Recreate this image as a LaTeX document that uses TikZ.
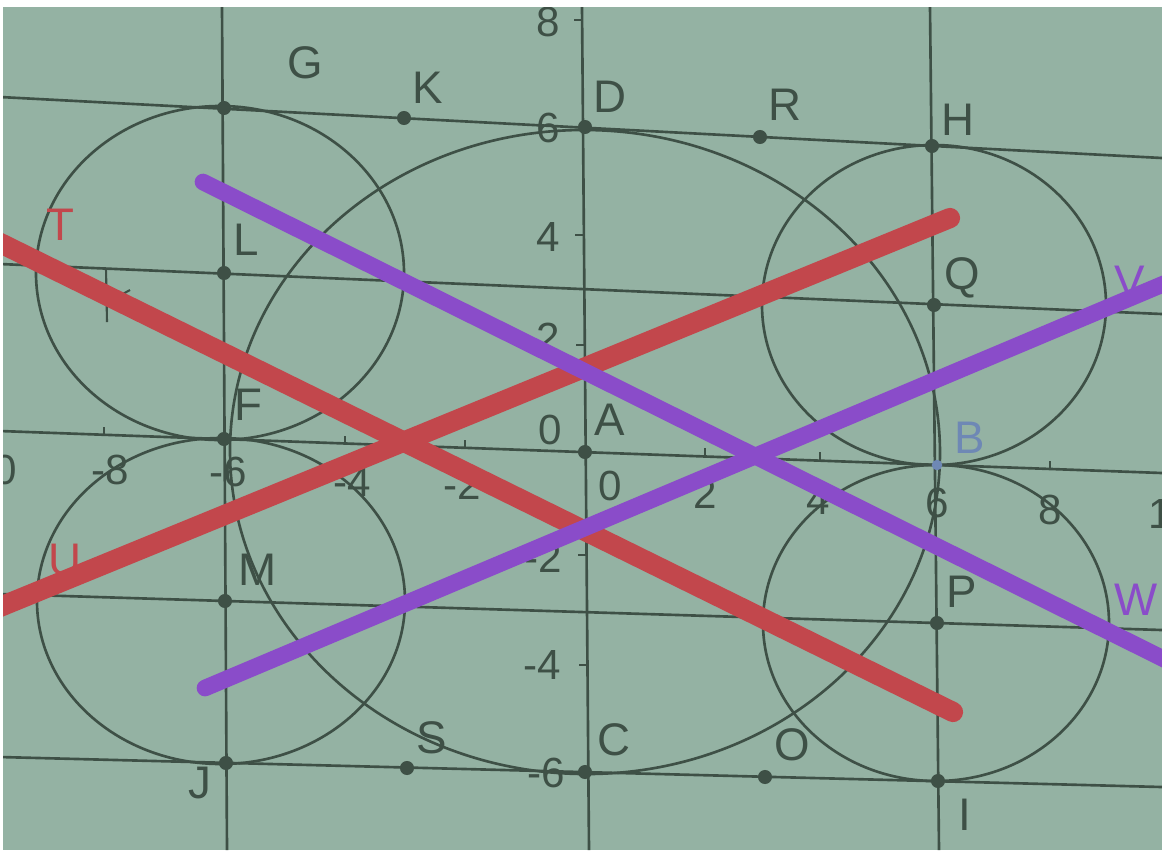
\documentclass[tikz,border=0pt]{standalone}
\usepackage{fontspec}
\setmainfont{Liberation Sans}
\usetikzlibrary{positioning}
\definecolor{screen}{HTML}{94B2A3}
\definecolor{ink}{HTML}{3E5046}
\definecolor{ggred}{HTML}{C2474C}
\definecolor{ggviolet}{HTML}{8A4CC9}
\definecolor{ggblue}{HTML}{6E88B5}

\begin{document}
\begin{tikzpicture}[
  x=0.02cm, y=-0.02cm,
  font=\fontsize{26}{26}\selectfont,
  geo/.style={draw=ink, line width=1.5pt},
  tick/.style={draw=ink, line width=1.2pt},
  dot/.style={circle, fill=ink, inner sep=0pt, minimum size=8pt},
  lbl/.style={inner sep=0pt, text=ink},
  num/.style={inner sep=0pt, text=ink, font=\fontsize{24}{24}\selectfont},
  redline/.style={draw=ggred, line width=11.5pt, line cap=round},
  violine/.style={draw=ggviolet, line width=9.5pt, line cap=round},
]
\useasboundingbox (0,0) rectangle (1162,850);
\fill[white] (0,0) rectangle (1162,850);
\fill[screen] (3,7) rectangle (1162,850);
\clip (3,7) rectangle (1162,850);

% points of the construction
\coordinate (G0) at (224,108);
\coordinate (K) at (404,118);
\coordinate (D) at (585,127);
\coordinate (R) at (760,137);
\coordinate (H) at (932,146);
\coordinate (L) at (224,273);
\coordinate (Q) at (934,305);
\coordinate (F) at (224,439);
\coordinate (A) at (585,452);
\coordinate (B) at (937,465);
\coordinate (M) at (225,601);
\coordinate (P) at (937,623);
\coordinate (J) at (226,763);
\coordinate (S) at (407,768);
\coordinate (C) at (585,772);
\coordinate (O) at (765,777);
\coordinate (I) at (938,781);

% grid lines
\coordinate (top w) at (0,97);    \coordinate (top e) at (1162,158);
\coordinate (up w) at (0,264);    \coordinate (up e) at (1162,314);
\coordinate (xax w) at (0,431);   \coordinate (xax e) at (1162,473);
\coordinate (low w) at (0,594);   \coordinate (low e) at (1162,630);
\coordinate (bot w) at (0,757);   \coordinate (bot e) at (1162,787);
\coordinate (left n) at (222,7);  \coordinate (left s) at (227,850);
\coordinate (yax n) at (582,7);   \coordinate (yax s) at (589,850);
\coordinate (right n) at (930,7); \coordinate (right s) at (939,850);

\foreach \a in {top,up,xax,low,bot}
  \draw[geo] (\a\space w) -- (\a\space e);
\foreach \a in {left,yax,right}
  \draw[geo] (\a\space n) -- (\a\space s);

% ticks
\foreach \x/\y in {104/435, 345/444, 465/448, 705/456, 820/460, 1050/469}
  \draw[tick] (\x,\y) -- ++(0,-8);
\foreach \x/\y in {582/20, 583/235, 584/345, 586/555, 587/665}
  \draw[tick] (\x,\y) -- ++(-8,0);

% circles
\draw[geo, rotate around={-1:(A)}] (A) ellipse [x radius=355, y radius=322];
\draw[geo] (220,273) ellipse [x radius=184, y radius=167];
\draw[geo] (221,601) ellipse [x radius=184, y radius=163];
\draw[geo] (934,305) ellipse [x radius=172, y radius=160];
\draw[geo] (936,623) ellipse [x radius=173, y radius=158];

% stray mark
\draw[tick] (106,268) -- (107,322);
\draw[tick] (112,300) -- (130,290);

% axis numbers
\node[num] (nx10) at (-14,470) {-10};
\node[num] (nx8) at (110,470) {-8};
\node[num] (nx6) at (228,472) {-6};
\node[num] (nx4) at (352,482) {-4};
\node[num] (nx2) at (462,485) {-2};
\node[num] (nx0) at (610,486) {0};
\node[num] (px2) at (705,494) {2};
\node[num] (px4) at (818,500) {4};
\node[num] (px6) at (937,503) {6};
\node[num] (px8) at (1050,510) {8};
\node[num] (px10) at (1172,514) {10};
\node[num] (py8) at (548,22) {8};
\node[num] (py6) at (548,128) {6};
\node[num] (py4) at (548,237) {4};
\node[num] (py2) at (548,338) {2};
\node[num] (ny0) at (550,430) {0};
\node[num] (ny2) at (543,558) {-2};
\node[num] (ny4) at (542,665) {-4};
\node[num] (ny6) at (546,773) {-6};

% point labels
\node[lbl] (lG) at (305,63) {G};
\node[lbl] (lK) at (428,88) {K};
\node[lbl] (lD) at (610,97) {D};
\node[lbl] (lR) at (785,105) {R};
\node[lbl] (lH) at (958,120) {H};
\node[lbl, text=ggred] (lT) at (60,225) {T};
\node[lbl] (lL) at (246,240) {L};
\node[lbl] (lQ) at (962,278) {Q};
\node[lbl, text=ggviolet] (lV) at (1130,282) {V};
\node[lbl] (lF) at (248,405) {F};
\node[lbl] (lA) at (610,420) {A};
\node[lbl, text=ggblue] (lB) at (970,438) {B};
\node[lbl, text=ggred] (lU) at (65,560) {U};
\node[lbl] (lM) at (258,570) {M};
\node[lbl] (lP) at (962,592) {P};
\node[lbl, text=ggviolet] (lW) at (1136,600) {W};
\node[lbl] (lS) at (432,738) {S};
\node[lbl] (lC) at (614,740) {C};
\node[lbl] (lO) at (792,745) {O};
\node[lbl] (lJ) at (200,783) {J};
\node[lbl] (lI) at (965,815) {I};

% thick lines
\coordinate (r1 a) at (-10,238);  \coordinate (r1 b) at (953,712);
\coordinate (r2 a) at (-10,611);  \coordinate (r2 b) at (950,218);
\coordinate (v1 a) at (203,182);  \coordinate (v1 b) at (1180,667);
\coordinate (v2 a) at (205,688);  \coordinate (v2 b) at (1180,277);
\draw[redline] (r1 a) -- (r1 b);
\draw[redline] (r2 a) -- (r2 b);
\draw[violine] (v1 a) -- (v1 b);
\draw[violine] (v2 a) -- (v2 b);

% dots
\foreach \p in {G0,K,D,R,H,L,Q,F,A,M,P,J,S,C,O,I}
  \node[dot] (d\p) at (\p) {};
\node[dot, fill=ggblue, minimum size=6pt] (dB) at (B) {};
\end{tikzpicture}
\end{document}
